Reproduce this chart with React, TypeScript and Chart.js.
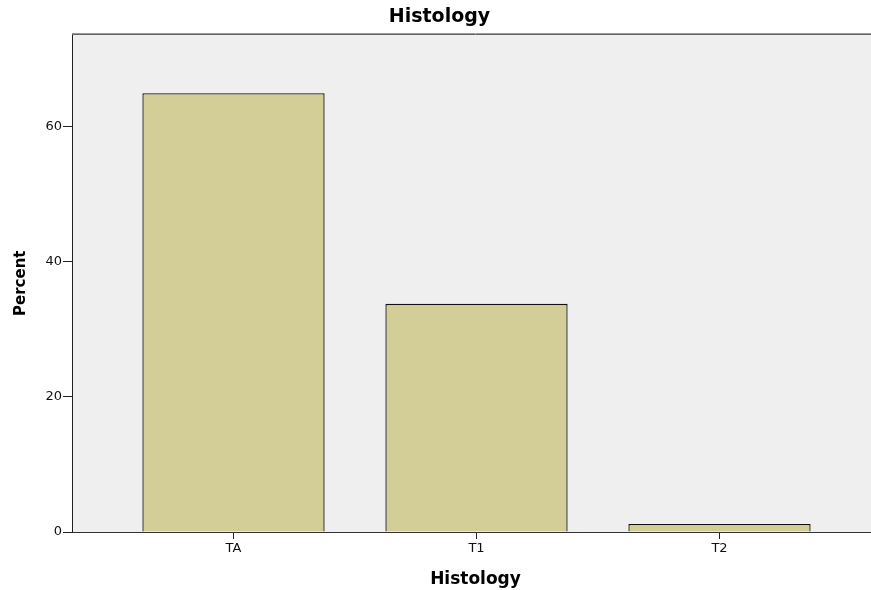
import React, { useEffect, useRef } from "react";
import { Chart, registerables } from "chart.js";

Chart.register(...registerables);

const categories = ["TA", "T1", "T2"];
const percentValues = [65.0, 33.8, 1.2];
const yTickValues = [0, 20, 40, 60];
const yMax = 73.7;
const chartTitle = "Histology";
const xAxisTitle = "Histology";
const yAxisTitle = "Percent";

const FONT = "'DejaVu Sans', Verdana, sans-serif";

const plotBackground = {
  id: "plotBackground",
  beforeDraw(chart: any) {
    const { ctx, chartArea } = chart;
    if (!chartArea) return;
    ctx.save();
    ctx.fillStyle = "#efefef";
    ctx.fillRect(chartArea.left, chartArea.top, chartArea.right - chartArea.left, chartArea.bottom - chartArea.top);
    ctx.restore();
  },
  afterDraw(chart: any) {
    const { ctx, chartArea } = chart;
    if (!chartArea) return;
    ctx.save();
    ctx.strokeStyle = "#9a9a9a";
    ctx.lineWidth = 1;
    ctx.beginPath();
    ctx.moveTo(chartArea.left, Math.round(chartArea.top) - 1.5);
    ctx.lineTo(chartArea.right, Math.round(chartArea.top) - 1.5);
    ctx.stroke();
    ctx.strokeStyle = "#666666";
    ctx.beginPath();
    ctx.moveTo(chartArea.left, Math.round(chartArea.top) - 0.5);
    ctx.lineTo(chartArea.right, Math.round(chartArea.top) - 0.5);
    ctx.stroke();
    ctx.restore();
  },
};

export default function App() {
  const canvasRef = useRef<HTMLCanvasElement | null>(null);

  useEffect(() => {
    if (!canvasRef.current) return;
    const pxPerUnit = 243;
    const xMin = -0.5 - 40 / pxPerUnit;
    const xMax = xMin + (879 - 72) / pxPerUnit;
    const chart = new Chart(canvasRef.current, {
      type: "bar",
      data: {
        datasets: [
          {
            data: categories.map((c, i) => ({ x: i, y: percentValues[i] })) as any,
            backgroundColor: "#d3ce97",
            borderColor: "#111111",
            borderWidth: 1.3,
            barPercentage: 0.75,
            categoryPercentage: 1,
          },
        ],
      },
      plugins: [plotBackground],
      options: {
        responsive: false,
        animation: false,
        layout: { padding: 0 },
        plugins: {
          legend: { display: false },
          tooltip: { enabled: false },
          title: {
            display: true,
            text: chartTitle,
            color: "#000",
            font: { family: FONT, size: 19, weight: "bold", lineHeight: 1.2 },
            padding: { top: 6, bottom: 5.7 },
          },
        },
        scales: {
          x: {
            type: "linear",
            min: xMin,
            max: xMax,
            offset: false,
            afterBuildTicks: (scale: any) => {
              scale.ticks = categories.map((c, i) => ({ value: i }));
            },
            afterFit: (scale: any) => {
              scale.height = 58;
            },
            ticks: {
              autoSkip: false,
              maxRotation: 0,
              padding: 2,
              color: "#111",
              font: { family: FONT, size: 13 },
              callback: (v: any) => categories[Math.round(Number(v))] ?? "",
            },
            grid: { offset: false, drawOnChartArea: false, drawTicks: true, tickLength: 7, color: "#222" },
            border: { display: true, color: "#333", width: 1 },
            title: {
              display: true,
              text: xAxisTitle,
              color: "#000",
              font: { family: FONT, size: 17, weight: "bold" },
              padding: { top: 10, bottom: 0 },
            },
          },
          y: {
            type: "linear",
            min: 0,
            max: yMax,
            afterBuildTicks: (scale: any) => {
              scale.ticks = yTickValues.map((v) => ({ value: v }));
            },
            afterFit: (scale: any) => {
              scale.width = 72;
            },
            ticks: {
              padding: 1,
              color: "#111",
              font: { family: FONT, size: 13 },
            },
            grid: { drawOnChartArea: false, drawTicks: true, tickLength: 9, color: "#222" },
            border: { display: true, color: "#222", width: 1 },
            title: {
              display: true,
              text: yAxisTitle,
              color: "#000",
              font: { family: FONT, size: 15, weight: "bold" },
              padding: { top: 12, bottom: 14 },
            },
          },
        },
      },
    });
    return () => chart.destroy();
  }, []);

  return (
    <div style={{ position: "absolute", left: 0, top: 0, width: 871, height: 590, overflow: "hidden", background: "#fff" }}>
      <canvas ref={canvasRef} width={879} height={590} style={{ display: "block" }} />
    </div>
  );
}
